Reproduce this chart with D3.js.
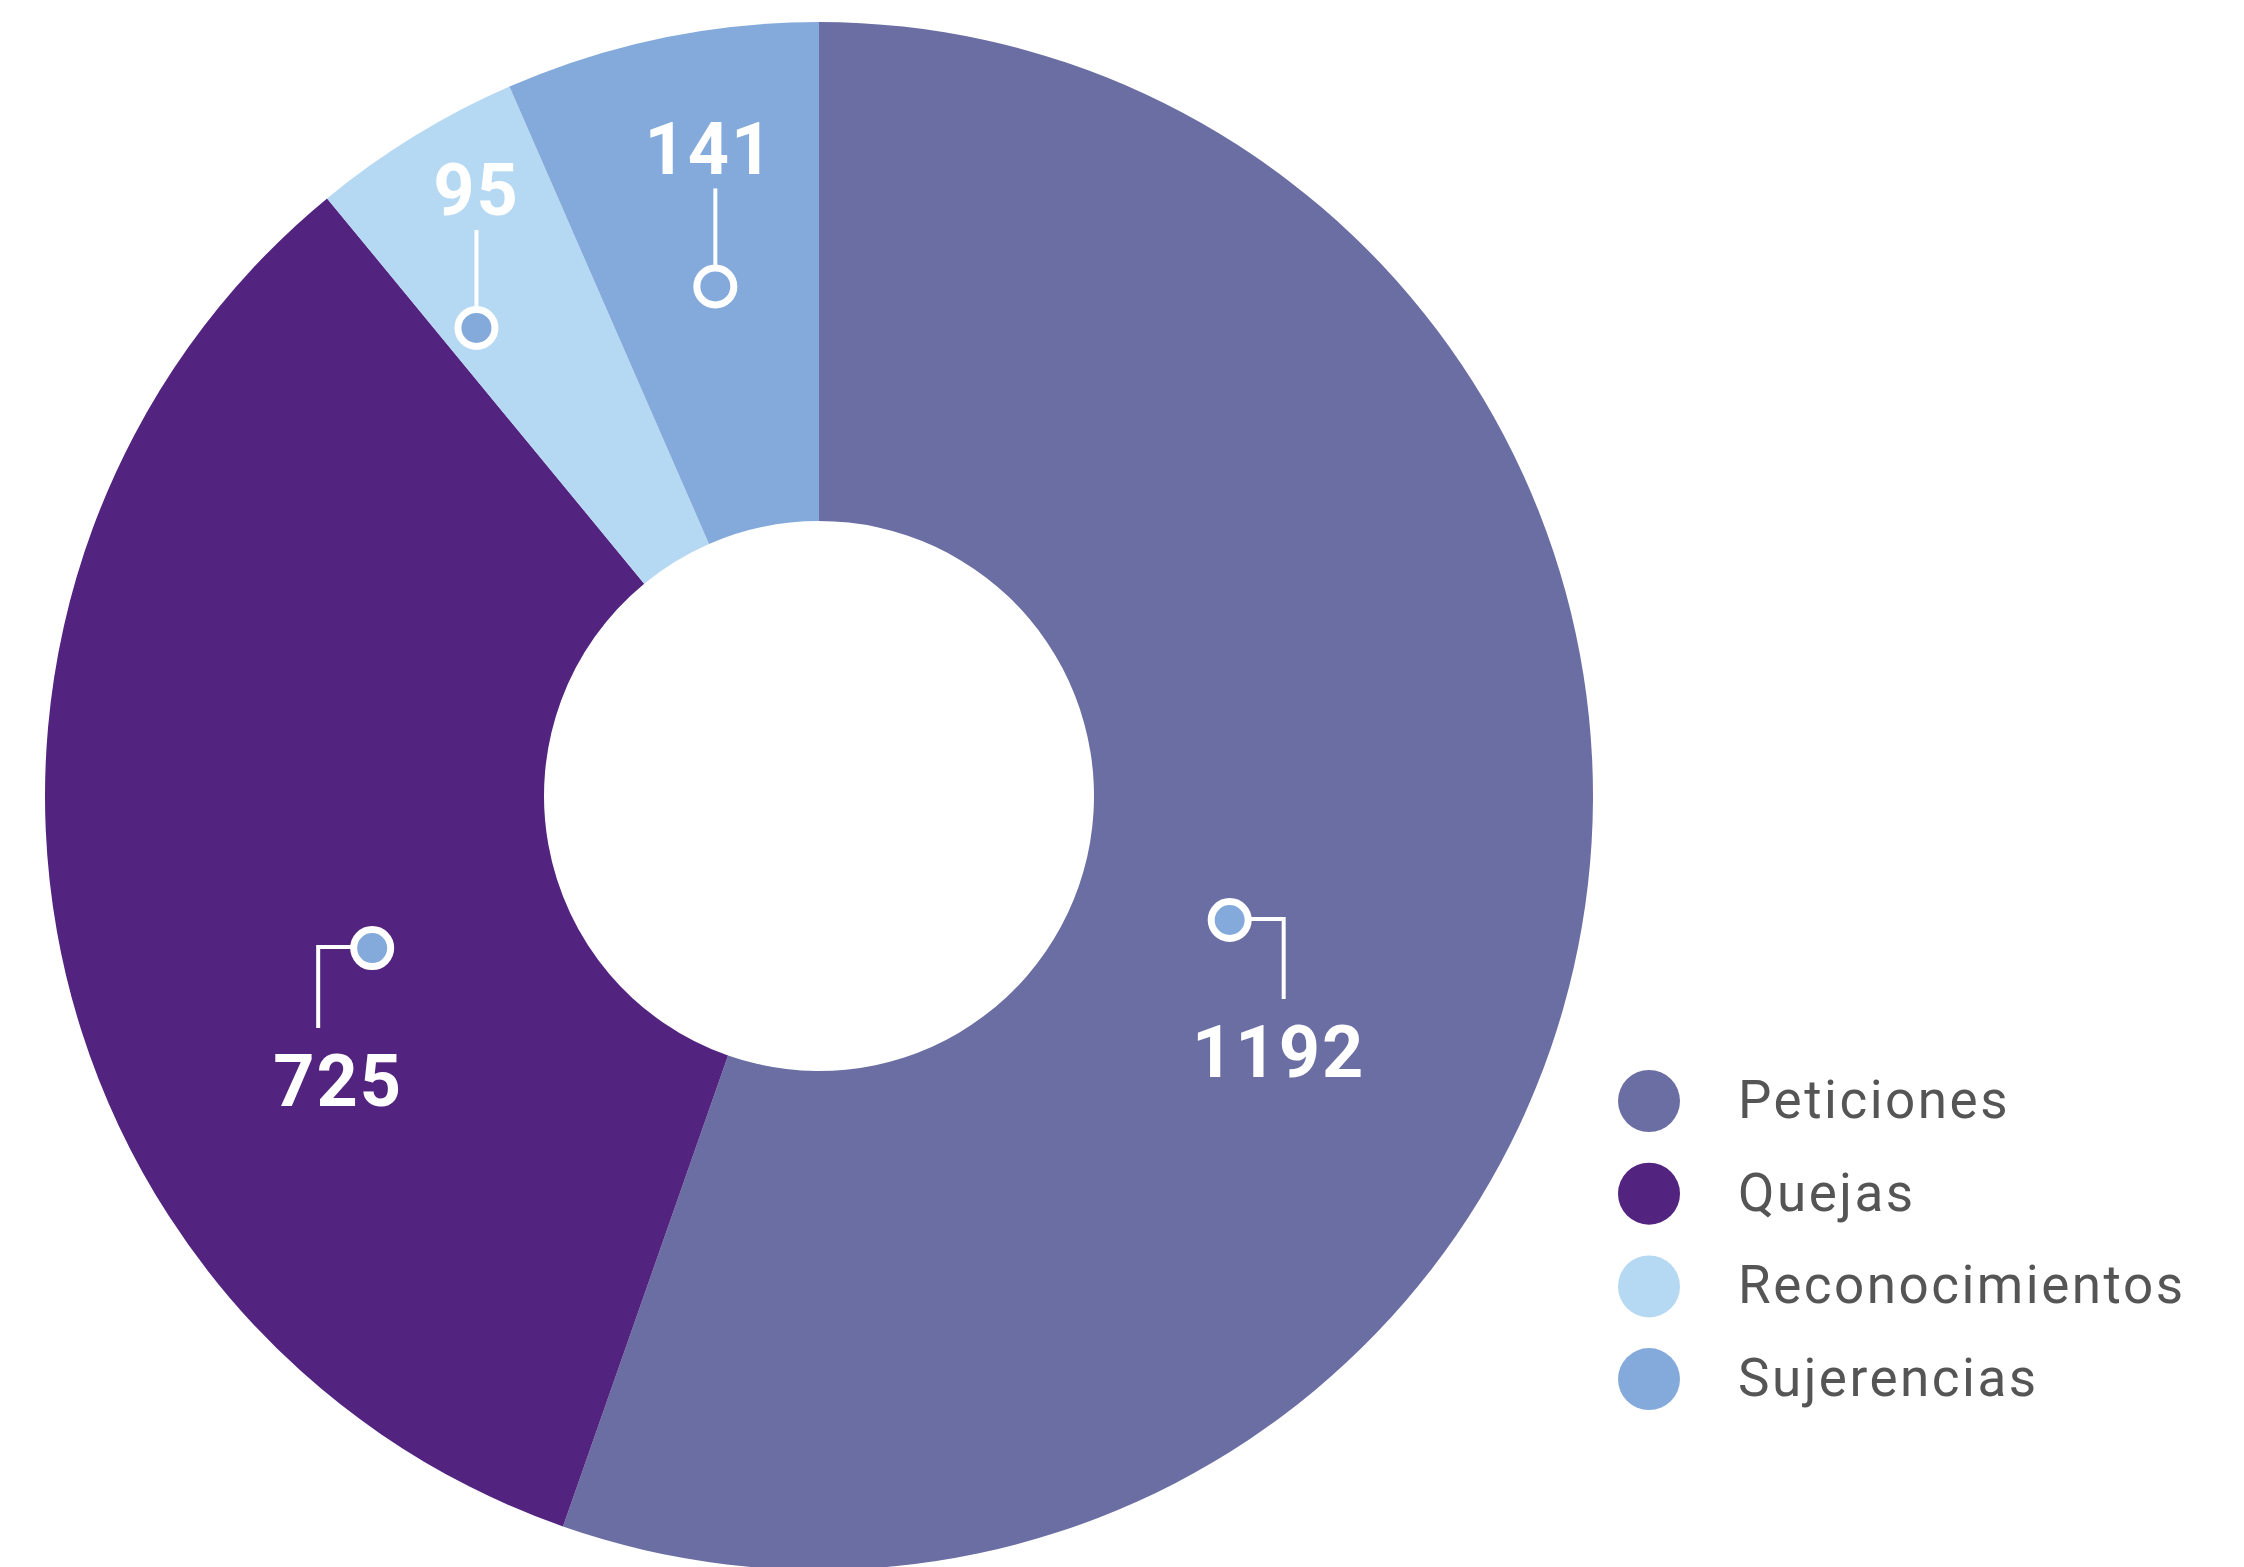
<!DOCTYPE html>
<html>
<head>
<meta charset="utf-8">
<script src="https://cdn.jsdelivr.net/npm/d3@7"></script>
<style>
  html, body { margin: 0; padding: 0; background: #ffffff; }
  svg { display: block; }
</style>
</head>
<body>
<svg id="chart" width="2244" height="1567"></svg>
<script>
// Requests received by type
const categories = ["Peticiones", "Quejas", "Reconocimientos", "Sujerencias"];
const values = [1192, 725, 95, 141];
const colors = ["#6b6ea3", "#52247f", "#b5d8f3", "#84aadb"];

// Callout layout: marker polar position (degrees clockwise from top, radius),
// leader style and label offsets relative to the marker / elbow
const callouts = [
  { angle: 106.8, radius: 429, leader: "elbow", elbowDx: 54, lineEndDy: 79, textDx: -5, baselineDy: 157 },
  { angle: 251.2, radius: 472, leader: "elbow", elbowDx: -54, lineEndDy: 80, textDx: 20, baselineDy: 158 },
  { angle: 323.8, radius: 580, leader: "up", lineEndDy: -98, textDx: 0, baselineDy: -113 },
  { angle: 348.5, radius: 520, leader: "up", lineEndDy: -98, textDx: -6, baselineDy: -112 }
];

const svg = d3.select("#chart");
const cx = 819, cy = 796;
const outerR = 774, innerR = 275;

const g = svg.append("g").attr("transform", `translate(${cx},${cy})`);

const pie = d3.pie().sort(null).value(d => d.value);
const arc = d3.arc().innerRadius(innerR).outerRadius(outerR);
const data = categories.map((c, i) => ({ name: c, value: values[i], color: colors[i] }));
const arcs = pie(data);

g.selectAll("path.slice")
  .data(arcs)
  .join("path")
  .attr("class", "slice")
  .attr("d", arc)
  .attr("fill", d => d.data.color);

// Value callouts
const markerFill = colors[3];
const toXY = (deg, r) => {
  const a = deg * Math.PI / 180;
  return [r * Math.sin(a), -r * Math.cos(a)];
};

arcs.forEach((a, i) => {
  const c = callouts[i];
  const [mx, my] = toXY(c.angle, c.radius);
  const grp = g.append("g");
  const lineStyle = s => s.attr("fill", "none").attr("stroke", "#ffffff").attr("stroke-width", 4);
  if (c.leader === "elbow") {
    const ex = mx + c.elbowDx;
    grp.append("path")
      .attr("d", `M${mx},${my - 1}H${ex}V${my + c.lineEndDy}`)
      .call(lineStyle);
  } else {
    grp.append("path")
      .attr("d", `M${mx},${my}V${my + c.lineEndDy}`)
      .call(lineStyle);
  }
  grp.append("circle")
    .attr("cx", mx).attr("cy", my).attr("r", 18.5)
    .attr("fill", markerFill)
    .attr("stroke", "#ffffff").attr("stroke-width", 7);
  const tx = c.leader === "elbow" ? mx + c.elbowDx + c.textDx : mx + c.textDx;
  grp.append("text")
    .attr("x", tx)
    .attr("y", my + c.baselineDy)
    .attr("text-anchor", "middle")
    .attr("fill", "#ffffff")
    .attr("font-family", "Roboto, 'Open Sans', sans-serif")
    .attr("font-weight", 700)
    .attr("font-size", 72)
    .attr("letter-spacing", 2)
    .text(d3.format("d")(a.data.value));
});

// Legend
const legend = svg.append("g").attr("transform", "translate(1649,1101)");
const item = legend.selectAll("g")
  .data(data)
  .join("g")
  .attr("transform", (d, i) => `translate(0,${i * 92.7})`);
item.append("circle")
  .attr("r", 31)
  .attr("fill", d => d.color);
item.append("text")
  .attr("x", 89)
  .attr("y", 17)
  .attr("fill", "#555555")
  .attr("font-family", "Roboto, 'Noto Sans', sans-serif")
  .attr("font-size", 53)
  .attr("letter-spacing", 2.5)
  .text(d => d.name);
</script>
</body>
</html>
